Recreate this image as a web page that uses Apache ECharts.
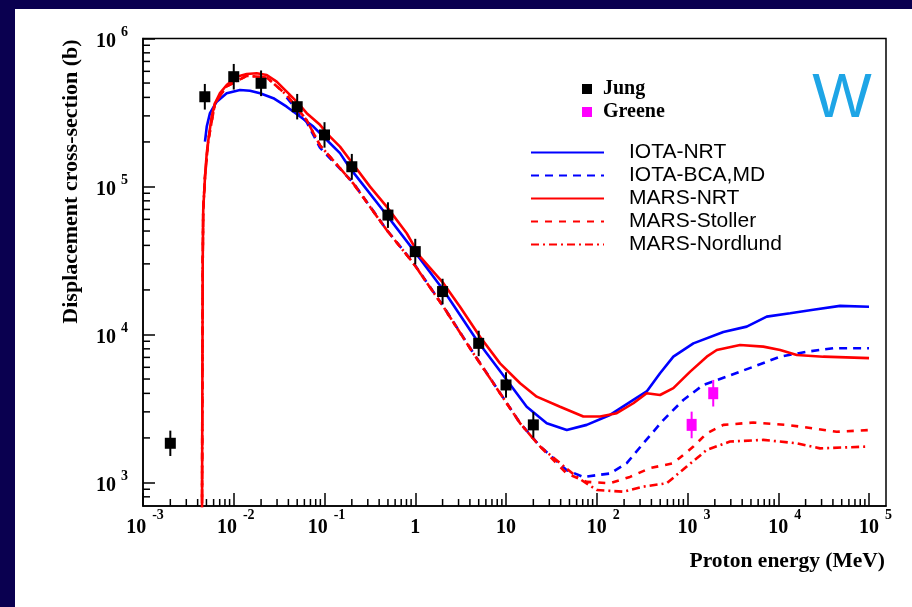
<!DOCTYPE html>
<html lang="en">

<head>
  <meta charset="UTF-8">
  <title>W displacement cross-section</title>
  <script src="https://cdn.jsdelivr.net/npm/echarts@6.0.0/dist/echarts.min.js"></script>
  <style>
    body { margin: 0; background: #fff; }
    #chart { width: 912px; height: 607px; }
  </style>
</head>

<body>
  <div id="chart"></div>
  <script>
    // proton energy (MeV) / cross-section (b)
    let iotaNrtE = [0.00482, 0.00504, 0.00547, 0.00649, 0.00836, 0.0117, 0.0151, 0.0195, 0.0273, 0.0383, 0.0537, 0.0754, 0.106, 0.148, 0.191, 0.484, 0.953, 2.04, 4.75, 10.2, 16.9, 28.1, 46.7, 77.5, 140, 253, 355, 498, 698, 1160, 2480, 4490, 7460, 13500, 24300, 47900, 100000];
    let iotaNrtS = [2.01e5, 2.54e5, 3.13e5, 3.74e5, 4.27e5, 4.49e5, 4.44e5, 4.27e5, 3.95e5, 3.46e5, 2.97e5, 2.54e5, 2.06e5, 1.68e5, 1.33e5, 6.41e4, 3.73e4, 2.00e4, 9180, 4930, 3250, 2510, 2260, 2450, 2860, 3610, 4120, 5470, 7080, 8710, 10400, 11300, 13200, 13900, 14700, 15600, 15400];

    let iotaBcaE = [0.0383, 0.0637, 0.0891, 0.207, 0.484, 0.953, 2.04, 4.36, 8.59, 14.3, 23.7, 46.7, 71.1, 140, 214, 326, 541, 899, 1490, 2700, 5310, 10500, 20600, 40400, 100000];
    let iotaBcaS = [4.0e5, 2.72e5, 1.83e5, 1.06e5, 5.1e4, 3.05e4, 1.55e4, 7500, 4030, 2520, 1760, 1210, 1090, 1150, 1350, 1840, 2640, 3610, 4560, 5190, 6050, 7080, 7650, 8070, 8070];

    let marsNrtE = [0.00447, 0.00455, 0.00461, 0.00482, 0.00504, 0.00525, 0.00571, 0.00621, 0.00705, 0.00836, 0.0108, 0.0139, 0.0179, 0.0231, 0.0297, 0.0383, 0.0494, 0.0637, 0.0891, 0.115, 0.148, 0.191, 0.317, 0.484, 0.805, 1.13, 2.04, 3.11, 5.17, 8.59, 14.3, 21.8, 39.4, 71.1, 109, 166, 253, 355, 498, 698, 1070, 1630, 2100, 3790, 6840, 10500, 16000, 31300, 100000];
    let marsNrtS = [600, 3.18e4, 6.94e4, 1.16e5, 1.68e5, 2.06e5, 2.97e5, 3.65e5, 4.27e5, 4.85e5, 5.52e5, 5.75e5, 5.82e5, 5.67e5, 5.11e5, 4.38e5, 3.74e5, 3.13e5, 2.61e5, 2.17e5, 1.86e5, 1.51e5, 9.98e4, 7.31e4, 4.83e4, 3.36e4, 2.22e4, 1.54e4, 9660, 6380, 4680, 3800, 3250, 2790, 2790, 2940, 3430, 4010, 3900, 4340, 5610, 7080, 7850, 8490, 8280, 7850, 7260, 7080, 6920];

    let stollerE = [0.00447, 0.00455, 0.00461, 0.00482, 0.00525, 0.00621, 0.00836, 0.0139, 0.0231, 0.0383, 0.0637, 0.0891, 0.207, 0.484, 0.953, 2.04, 4.36, 8.59, 14.3, 23.7, 46.7, 77.5, 140, 232, 386, 698, 1160, 1630, 2480, 5310, 12400, 24300, 44100, 100000];
    let stollerS = [600, 3.18e4, 6.94e4, 1.16e5, 2.06e5, 3.65e5, 4.75e5, 5.60e5, 5.45e5, 4.15e5, 2.80e5, 1.90e5, 1.05e5, 5.08e4, 3.03e4, 1.54e4, 7460, 4010, 2510, 1750, 1150, 1010, 988, 1090, 1250, 1350, 1750, 2150, 2450, 2540, 2450, 2320, 2200, 2260];

    let nordlundE = [0.00447, 0.00455, 0.00461, 0.00482, 0.00525, 0.00621, 0.00836, 0.0139, 0.0231, 0.0383, 0.0637, 0.0891, 0.207, 0.484, 0.953, 2.04, 4.36, 8.59, 14.3, 23.7, 60.1, 100, 196, 326, 590, 980, 1630, 2940, 6840, 16000, 28800, 100000];
    let nordlundS = [600, 3.18e4, 6.94e4, 1.16e5, 2.06e5, 3.65e5, 4.75e5, 5.60e5, 5.45e5, 4.15e5, 2.80e5, 1.90e5, 1.05e5, 5.08e4, 3.03e4, 1.54e4, 7460, 4010, 2510, 1750, 1090, 889, 867, 937, 988, 1280, 1660, 1890, 1940, 1840, 1700, 1750];

    let jungE = [0.002, 0.0048, 0.01, 0.02, 0.05, 0.1, 0.2, 0.5, 1, 2, 5, 10, 20];
    let jungS = [1840, 4.04e5, 5.52e5, 4.98e5, 3.46e5, 2.23e5, 1.36e5, 6.41e4, 3.63e4, 1.95e4, 8710, 4560, 2450];
    let jungLow = [1510, 3.31e5, 4.52e5, 4.08e5, 2.84e5, 1.83e5, 1.11e5, 5.25e4, 2.98e4, 1.60e4, 7140, 3740, 2010];
    let jungHigh = [2240, 4.93e5, 6.73e5, 6.08e5, 4.22e5, 2.72e5, 1.66e5, 7.82e4, 4.43e4, 2.38e4, 10600, 5560, 2990];

    let greeneE = [1110, 1920];
    let greeneS = [2450, 4010];
    let greeneLow = [1990, 3260];
    let greeneHigh = [3010, 4930];

    let lineNames = ['IOTA-NRT', 'IOTA-BCA,MD', 'MARS-NRT', 'MARS-Stoller', 'MARS-Nordlund'];
    let pointNames = ['Jung', 'Greene'];
  </script>
  <script>
    // axes are log10(value) on value axes
    const L = Math.log10;
    const X_MIN = -3, X_MAX = 5.187;
    const Y_MIN = 2.841, Y_MAX = 6;
    const SERIF = 'Liberation Serif';
    const SANS = 'Liberation Sans';

    function pairs(es, ss) {
      return es.map((e, i) => [L(e), L(ss[i])]);
    }
    function bars(es, lo, hi) {
      return es.map((e, i) => [L(e), L(lo[i]), L(hi[i])]);
    }

    // minor ticks at 2..9 of each decade
    let xMinor = [];
    for (let d = -3; d <= 5; d++) {
      for (let k = 2; k < 10; k++) {
        let v = d + L(k);
        if (v < X_MAX) xMinor.push([v, Y_MIN]);
      }
    }
    let yMinor = [];
    for (let d = 2; d <= 5; d++) {
      for (let k = 2; k < 10; k++) {
        let v = d + L(k);
        if (v > Y_MIN + 0.01 && v < Y_MAX) yMinor.push([X_MIN, v]);
      }
    }

    function lineSeries(name, es, ss, color, type) {
      return {
        type: 'line', name: name, data: pairs(es, ss),
        symbol: 'none', showSymbol: false,
        lineStyle: { color: color, width: 2.6, type: type },
        itemStyle: { color: color },
        z: 3
      };
    }

    function errSeries(data, color) {
      return {
        type: 'custom', data: data, silent: true, z: 4,
        encode: { x: 0, y: [1, 2] },
        renderItem: function (params, api) {
          let a = api.coord([api.value(0), api.value(1)]);
          let b = api.coord([api.value(0), api.value(2)]);
          return {
            type: 'line',
            shape: { x1: a[0], y1: a[1], x2: b[0], y2: b[1] },
            style: { stroke: color, lineWidth: 2 }
          };
        }
      };
    }

    function tickSeries(data, horizontal) {
      return {
        type: 'custom', data: data, silent: true, z: 5,
        encode: { x: 0, y: 1 },
        renderItem: function (params, api) {
          let p = api.coord([api.value(0), api.value(1)]);
          let shape = horizontal
            ? { x1: p[0], y1: p[1], x2: p[0] + 7, y2: p[1] }
            : { x1: p[0], y1: p[1], x2: p[0], y2: p[1] - 7 };
          return { type: 'line', shape: shape, style: { stroke: '#000', lineWidth: 1.5 } };
        }
      };
    }

    let dom = document.getElementById('chart');
    let chart = echarts.init(dom, null, { renderer: 'canvas' });

    let option = {
      backgroundColor: '#fff',
      animation: false,
      grid: {
        left: 143, top: 38.5, right: 26, bottom: 101,
        show: true, borderColor: '#000', borderWidth: 1.5, backgroundColor: 'transparent'
      },
      xAxis: {
        type: 'value', min: X_MIN, max: X_MAX, interval: 1,
        splitLine: { show: false },
        axisLine: { onZero: false, lineStyle: { color: '#000', width: 1.5 } },
        axisTick: { inside: true, length: 13, lineStyle: { color: '#000', width: 1.5 } },
        axisLabel: {
          margin: 7, showMaxLabel: false,
          formatter: function (v) {
            let e = Math.round(v);
            if (Math.abs(v - e) > 1e-6) return '';
            if (e === 0) return '{b|1}';
            if (e === 1) return '{b|10}';
            if (e < 0) return '{bn|10}{s|' + e + '}';
            return '{bp|10}{s|' + e + '}';
          },
          rich: {
            b: { fontFamily: SERIF, fontWeight: 'bold', fontSize: 20, lineHeight: 20, padding: [10, 0, 0, 0], color: '#000' },
            bn: { fontFamily: SERIF, fontWeight: 'bold', fontSize: 20, lineHeight: 20, padding: [10, 0, 0, 4], color: '#000' },
            bp: { fontFamily: SERIF, fontWeight: 'bold', fontSize: 20, lineHeight: 20, padding: [10, 0, 0, 13], color: '#000' },
            s: { fontFamily: SERIF, fontWeight: 'bold', fontSize: 14, lineHeight: 14, padding: [0, 0, 16, 6], color: '#000' }
          }
        }
      },
      yAxis: {
        type: 'value', min: Y_MIN, max: Y_MAX, splitNumber: 3,
        splitLine: { show: false },
        axisLine: { onZero: false, lineStyle: { color: '#000', width: 1.5 } },
        axisTick: { inside: true, length: 12, lineStyle: { color: '#000', width: 1.5 } },
        axisLabel: {
          margin: 15, showMinLabel: false,
          formatter: function (v) {
            let e = Math.round(v);
            if (Math.abs(v - e) > 1e-6) return '';
            return '{b|10}{s|' + e + '}';
          },
          rich: {
            b: { fontFamily: SERIF, fontWeight: 'bold', fontSize: 20, lineHeight: 20, padding: [6, 0, 0, 0], color: '#000' },
            s: { fontFamily: SERIF, fontWeight: 'bold', fontSize: 14, lineHeight: 14, padding: [0, 0, 12, 5], color: '#000' }
          }
        }
      },
      legend: [
        {
          data: pointNames, orient: 'vertical', left: 582, top: 79, padding: 0,
          icon: 'rect', itemWidth: 10, itemHeight: 10, itemGap: 3,
          selectedMode: false,
          textStyle: { fontFamily: SERIF, fontWeight: 'bold', fontSize: 20, color: '#000', padding: [0, 0, 0, 6] }
        },
        {
          data: lineNames, orient: 'vertical', left: 530, top: 142, padding: 0,
          itemWidth: 73, itemHeight: 14, itemGap: 2,
          selectedMode: false,
          itemStyle: { opacity: 0 },
          textStyle: { fontFamily: SANS, fontSize: 21, color: '#000', padding: [0, 0, 0, 20] }
        }
      ],
      graphic: [
        { type: 'rect', shape: { x: 0, y: 0, width: 912, height: 9 }, style: { fill: '#0a0050' } },
        { type: 'rect', shape: { x: 0, y: 0, width: 15, height: 607 }, style: { fill: '#0a0050' } },
        {
          type: 'text', x: 842, y: 99.5,
          style: { text: 'W', fill: '#1ea5e6', font: '63px ' + SANS, textAlign: 'center', textVerticalAlign: 'middle' }
        },
        {
          type: 'text', x: 71, y: 181.5, rotation: Math.PI / 2,
          style: { text: 'Displacement cross-section (b)', fill: '#000', font: 'bold 22px ' + SERIF, textAlign: 'center', textVerticalAlign: 'middle' }
        },
        {
          type: 'text', x: 885, y: 561.5,
          style: { text: 'Proton energy (MeV)', fill: '#000', font: 'bold 21.5px ' + SERIF, textAlign: 'right', textVerticalAlign: 'middle' }
        }
      ],
      series: [
        lineSeries('IOTA-NRT', iotaNrtE, iotaNrtS, '#0000ff', 'solid'),
        lineSeries('IOTA-BCA,MD', iotaBcaE, iotaBcaS, '#0000ff', [8, 6]),
        lineSeries('MARS-NRT', marsNrtE, marsNrtS, '#ff0000', 'solid'),
        lineSeries('MARS-Stoller', stollerE, stollerS, '#ff0000', [7, 7]),
        lineSeries('MARS-Nordlund', nordlundE, nordlundS, '#ff0000', [8, 4, 2, 4]),
        errSeries(bars(jungE, jungLow, jungHigh), '#000'),
        {
          type: 'scatter', name: 'Jung', data: pairs(jungE, jungS),
          symbol: 'rect', symbolSize: 11, itemStyle: { color: '#000', opacity: 1 }, z: 6
        },
        errSeries(bars(greeneE, greeneLow, greeneHigh), '#ff00ff'),
        {
          type: 'scatter', name: 'Greene', data: pairs(greeneE, greeneS),
          symbol: 'rect', symbolSize: [10, 12], itemStyle: { color: '#ff00ff', opacity: 1 }, z: 6
        },
        tickSeries(xMinor, false),
        tickSeries(yMinor, true)
      ]
    };

    chart.setOption(option);
  </script>
</body>

</html>
